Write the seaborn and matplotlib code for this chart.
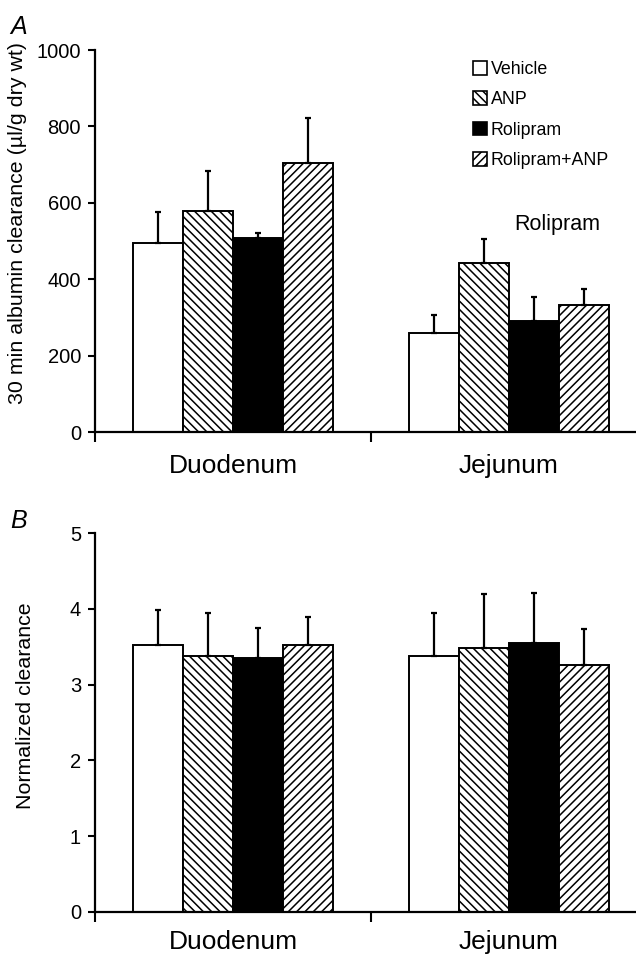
import matplotlib
matplotlib.use("Agg")
import matplotlib.pyplot as plt
import matplotlib.patches as mpatches
import seaborn as sns
import pandas as pd

# values
segments = ["Duodenum", "Jejunum"]
treatments = ["Vehicle", "ANP", "Rolipram", "Rolipram+ANP"]

clear_duo = [495, 578, 507, 703]
clear_duo_err = [81, 104, 14, 118]
clear_jej = [258, 443, 291, 333]
clear_jej_err = [48, 63, 63, 42]

norm_duo = [3.52, 3.38, 3.35, 3.52]
norm_duo_err = [0.46, 0.57, 0.40, 0.37]
norm_jej = [3.38, 3.48, 3.55, 3.26]
norm_jej_err = [0.57, 0.72, 0.66, 0.47]

colors = {"Vehicle": "white", "ANP": "white", "Rolipram": "black", "Rolipram+ANP": "white"}
hatches = {"Vehicle": "", "ANP": "\\\\\\\\", "Rolipram": "", "Rolipram+ANP": "////"}

sns.set_style("ticks")
plt.rcParams["font.family"] = ["Liberation Sans", "DejaVu Sans"]
plt.rcParams["hatch.linewidth"] = 1.1
plt.rcParams["text.color"] = "black"
plt.rcParams["xtick.color"] = "black"
plt.rcParams["ytick.color"] = "black"
plt.rcParams["axes.labelcolor"] = "black"
plt.rcParams["axes.edgecolor"] = "black"


def make_df(duo, jej):
    return pd.DataFrame({
        "segment": [segments[0]] * 4 + [segments[1]] * 4,
        "treatment": treatments * 2,
        "value": duo + jej,
    })


def draw_panel(ax, df, errs, ylim, yticks, ylabel, label_pad, ylab_xy):
    sns.barplot(data=df, x="segment", y="value", hue="treatment", order=segments,
                hue_order=treatments, palette=colors, width=0.725, errorbar=None,
                edgecolor="black", linewidth=1.4, legend=False, ax=ax)
    for t, cont in zip(treatments, ax.containers):
        for j, bar in enumerate(cont):
            bar.set_hatch(hatches[t])
            bar.set_edgecolor("black")
            x = bar.get_x() + bar.get_width() / 2
            y = bar.get_height()
            ax.errorbar(x, y, yerr=[[0], [errs[t][j]]], fmt="none", ecolor="black",
                        elinewidth=1.6, capsize=2, capthick=1.6, zorder=1)
    ax.set_xlim(-0.5, 1.5)
    ax.set_ylim(*ylim)
    ax.set_yticks(yticks)
    ax.set_xticks([0, 1])
    ax.set_xticks([-0.5, 0.5, 1.5], minor=True)
    ax.tick_params(axis="x", which="major", length=0, labelsize=19, pad=label_pad)
    ax.tick_params(axis="x", which="minor", length=7, width=1.5, direction="out")
    ax.tick_params(axis="y", length=5, width=1.5, labelsize=14.5, pad=5)
    ax.set_xlabel("")
    ax.set_ylabel(ylabel, fontsize=15.4)
    ax.yaxis.set_label_coords(*ylab_xy)
    sns.despine(ax=ax)
    for s in ["left", "bottom"]:
        ax.spines[s].set_linewidth(1.6)


fig = plt.figure(figsize=(6.36, 9.55), dpi=100)
axA = fig.add_axes([95 / 636, 523 / 955, 552 / 636, 382 / 955])
axB = fig.add_axes([95 / 636, 43.3 / 955, 552 / 636, 378.4 / 955])

errA = {t: [clear_duo_err[i], clear_jej_err[i]] for i, t in enumerate(treatments)}
errB = {t: [norm_duo_err[i], norm_jej_err[i]] for i, t in enumerate(treatments)}

draw_panel(axA, make_df(clear_duo, clear_jej), errA, (0, 1000), range(0, 1001, 200),
           "30 min albumin clearance (µl/g dry wt)", 16, (-0.123, 0.548))
draw_panel(axB, make_df(norm_duo, norm_jej), errB, (0, 5), range(0, 6),
           "Normalized clearance", 13, (-0.108, 0.544))

axA.text(1.174, 542, "Rolipram", ha="center", va="center", fontsize=15.5)

handles = [mpatches.Patch(facecolor=colors[t], edgecolor="black", hatch=hatches[t],
                          linewidth=1.2, label=t) for t in treatments]
axA.legend(handles=handles, loc="upper left", bbox_to_anchor=(0.672, 0.99),
           frameon=False, fontsize=12.8, handlelength=0.8, handleheight=0.8,
           handletextpad=0.2, labelspacing=0.75, borderaxespad=0)

fig.text(10 / 636, 1 - 27 / 955, "A", fontsize=18, style="italic", va="center")
fig.text(10 / 636, 1 - 521 / 955, "B", fontsize=18, style="italic", va="center")

fig.savefig("out.png", dpi=100)
